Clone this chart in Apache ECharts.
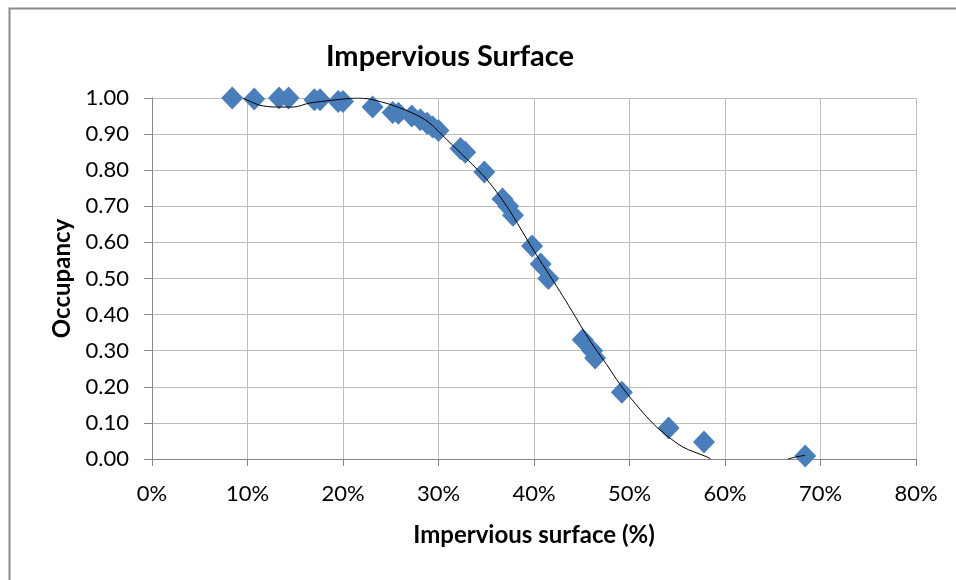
<!DOCTYPE html>
<html>
<head>
<meta charset="utf-8">
<script src="https://cdn.jsdelivr.net/npm/echarts@6/dist/echarts.min.js"></script>
<style>html,body{margin:0;padding:0;background:#fff}#c{width:956px;height:580px}</style>
</head>
<body>
<div id="c"></div>
<script>
// Observed data: impervious surface (%) and occupancy
var impervious = [8.4, 10.7, 13.3, 14.3, 17.0, 17.6, 19.5, 20.0, 23.1, 25.2, 25.8, 27.2, 28.1, 28.8, 29.4, 30.0, 32.3, 32.8, 34.8, 36.7, 37.3, 37.8, 39.8, 40.7, 41.5, 45.1, 46.1, 46.4, 49.2, 54.1, 57.8, 68.4];
var occupancy  = [1.00, 0.997, 1.00, 1.00, 0.995, 0.995, 0.99, 0.99, 0.975, 0.96, 0.958, 0.95, 0.94, 0.93, 0.92, 0.91, 0.86, 0.85, 0.795, 0.72, 0.70, 0.675, 0.59, 0.54, 0.50, 0.33, 0.30, 0.28, 0.185, 0.086, 0.047, 0.008];

// Trendline (x in %, y occupancy); null = hidden below axis
var trendX = [9.5, 11.3, 13.1, 14.8, 16.5, 18.3, 20.0, 21.5, 22.8, 25.2, 27.7, 29.1, 30.9, 33.0, 35.1, 37.2, 39.3, 40.6, 41.8, 43.0, 44.2, 45.1, 46.3, 47.6, 49.0, 50.4, 51.8, 53.2, 55.6, 58.1, 58.5, 62.0, 66.6, 67.5, 68.4];
var trendY = [1.00, 0.98, 0.975, 0.975, 0.986, 0.992, 0.997, 1.00, 0.997, 0.98, 0.953, 0.93, 0.884, 0.83, 0.773, 0.698, 0.607, 0.551, 0.502, 0.452, 0.400, 0.360, 0.310, 0.262, 0.207, 0.160, 0.117, 0.080, 0.033, 0.006, 0.0, null, 0.0, 0.006, 0.01];

var xTicks = ['0%', '10%', '20%', '30%', '40%', '50%', '60%', '70%', '80%'];

var pts = impervious.map(function (x, i) { return [x, occupancy[i]]; });
var trend = trendX.map(function (x, i) { return [x, trendY[i]]; });

var chart = echarts.init(document.getElementById('c'));
var fam = 'Lato, "Open Sans", sans-serif';
chart.setOption({
  animation: false,
  backgroundColor: '#ffffff',
  title: {
    text: 'Impervious Surface',
    left: 445, top: 37, textAlign: 'center',
    textStyle: { fontFamily: fam, fontWeight: 'bold', fontSize: 29, color: '#000' }
  },
  graphic: [{
    type: 'rect', left: 7, top: 6, silent: true,
    shape: { width: 970, height: 600 },
    style: { fill: 'none', stroke: '#8a8a8a', lineWidth: 2 }
  }],
  grid: { left: 152, right: 40, top: 98, bottom: 121 },
  xAxis: {
    type: 'value', min: 0, max: 80, interval: 10,
    name: 'Impervious surface (%)', nameLocation: 'middle', nameGap: 64,
    nameTextStyle: { fontFamily: fam, fontWeight: 'bold', fontSize: 24, color: '#000' },
    axisLine: { show: true, lineStyle: { color: '#868686', width: 1 } },
    axisTick: { show: true, length: 7, lineStyle: { color: '#868686' } },
    axisLabel: { fontFamily: fam, fontSize: 22, color: '#000', margin: 24,
      formatter: function (v) { return xTicks[Math.round(v / 10)]; } },
    splitLine: { show: true, lineStyle: { color: '#bdbdbd', width: 1 } }
  },
  yAxis: {
    type: 'value', min: 0, max: 1, interval: 0.1,
    name: 'Occupancy', nameLocation: 'middle', nameGap: 78, nameRotate: 90,
    nameTextStyle: { fontFamily: fam, fontWeight: 'bold', fontSize: 24, color: '#000' },
    axisLine: { show: true, lineStyle: { color: '#868686', width: 1 } },
    axisTick: { show: true, length: 8, lineStyle: { color: '#868686' } },
    axisLabel: { fontFamily: fam, fontSize: 22, color: '#000', margin: 23,
      formatter: function (v) { return v.toFixed(2); } },
    splitLine: { show: true, lineStyle: { color: '#bdbdbd', width: 1 } }
  },
  series: [{
    type: 'scatter', data: pts, symbol: 'diamond', symbolSize: [22, 23],
    itemStyle: { color: '#4A7EBB', opacity: 1 }, z: 2
  }, {
    type: 'line', data: trend, smooth: 0.3, showSymbol: false, connectNulls: false,
    lineStyle: { color: '#000', width: 1 }, z: 3, clip: true
  }]
});
</script>
</body>
</html>
